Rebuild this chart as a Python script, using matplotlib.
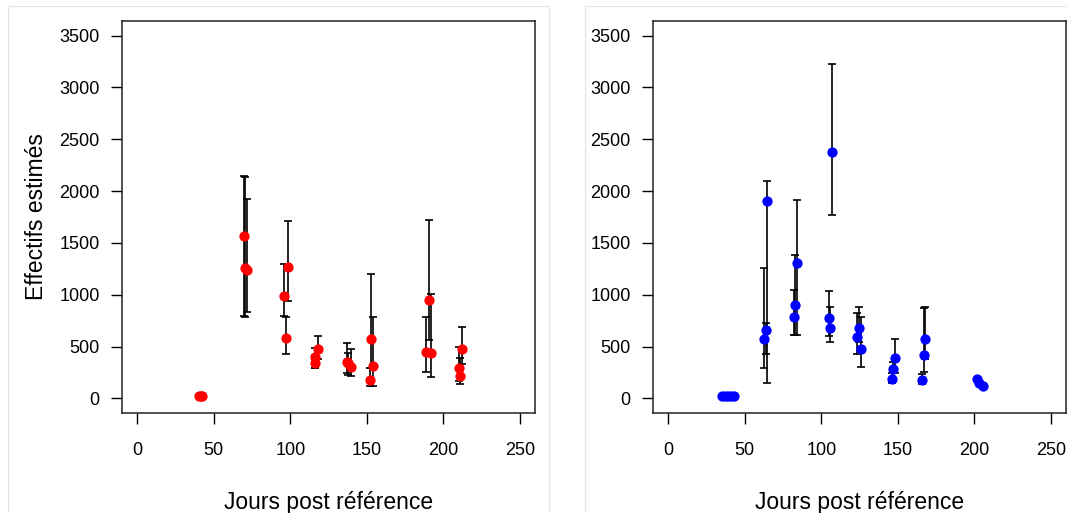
import numpy as np
import matplotlib
matplotlib.use("Agg")
import matplotlib.pyplot as plt
from matplotlib.patches import Rectangle

plt.rcParams['font.family'] = ['Liberation Sans', 'DejaVu Sans']

# ---------------- data ----------------
nan = np.nan
x_left = [40.5, 41.5, 42.5, 70, 70.5, 72, 96, 97, 98.5, 116, 116.5, 118,
          137, 138, 139.5, 152, 153, 154, 188.5, 190.5, 192, 210, 211, 212.5]
y_left = [25, 25, 25, 1567, 1260, 1240, 990, 585, 1265, 400, 345, 480,
          350, 340, 308, 183, 577, 317, 450, 952, 442, 298, 221, 481]
lo_left = [nan, nan, nan, 800, 790, 830, 800, 430, 940, 290, 290, 380,
           250, 230, 220, 120, 290, 125, 260, 560, 210, 170, 144, 330]
hi_left = [nan, nan, nan, 2150, 2140, 1925, 1300, 790, 1710, 490, 420, 600,
           538, 440, 480, 290, 1200, 790, 790, 1720, 1010, 500, 390, 690]

x_right = [35, 37, 39, 41, 43, 62.7, 64, 64.6, 82.2, 83, 84, 105, 105.7, 107,
           123.4, 124.7, 126, 146, 147, 148, 166, 167, 168, 201.6, 203, 205.6]
y_right = [22, 22, 22, 22, 22, 577, 663, 1905, 790, 905, 1310, 780, 675, 2375,
           596, 683, 481, 192, 288, 394, 183, 423, 577, 192, 154, 125]
lo_right = [nan, nan, nan, nan, nan, 290, 430, 150, 610, 610, 610, 600, 540, 1770,
            433, 540, 300, 154, 200, 250, 135, 260, 385, nan, nan, nan]
hi_right = [nan, nan, nan, nan, nan, 1260, 730, 2100, 1050, 1385, 1910, 1040, 885, 3230,
            827, 885, 790, 250, 356, 577, 240, 870, 885, nan, nan, nan]

x_ticks = [0, 50, 100, 150, 200, 250]
y_ticks = [0, 500, 1000, 1500, 2000, 2500, 3000, 3500]
x_label = "Jours post référence"
y_label = "Effectifs estimés"

# ---------------- figure ----------------
W, H = 1067, 513
fig = plt.figure(figsize=(W / 100, H / 100), dpi=100)

# faint panel boxes
for (x0, x1) in [(8, 549), (585, 1075)]:
    fig.patches.append(Rectangle((x0 / W, -0.05), (x1 - x0) / W, 1.05 - 6 / H,
                                 transform=fig.transFigure, fill=False,
                                 edgecolor='#e4e4e4', linewidth=0.8, zorder=0))

ax_w = 413 / W
ax_b = 1 - 413 / H
ax_h = 392 / H
axes = [fig.add_axes([122 / W, ax_b, ax_w, ax_h]),
        fig.add_axes([653 / W, ax_b, ax_w, ax_h])]

panels = [(x_left, y_left, lo_left, hi_left, '#ff0000', True),
          (x_right, y_right, lo_right, hi_right, '#0000ff', False)]

for ax, (xs, ys, lo, hi, col, show_ylab) in zip(axes, panels):
    xs = np.array(xs, float); ys = np.array(ys, float)
    lo = np.array(lo, float); hi = np.array(hi, float)
    m = ~np.isnan(lo)
    ax.errorbar(xs[m], ys[m], yerr=[ys[m] - lo[m], hi[m] - ys[m]], fmt='none',
                ecolor='black', elinewidth=1.2, capsize=3.2, capthick=1.2, zorder=2)
    ax.plot(xs, ys, 'o', color=col, markersize=7.4, markeredgewidth=0, zorder=3)
    ax.set_xlim(-10, 260)
    ax.set_ylim(-140, 3640)
    ax.set_xticks(x_ticks)
    ax.set_yticks(y_ticks)
    ax.tick_params(axis='both', direction='out', length=8, width=1.0,
                   labelsize=13, color='black')
    ax.tick_params(axis='y', pad=8)
    ax.tick_params(axis='x', pad=13)
    for sp in ax.spines.values():
        sp.set_linewidth(1.1)
        sp.set_color('#222222')
    ax.set_xlabel(x_label, fontsize=16.5, labelpad=23)
    if show_ylab:
        ax.set_ylabel(y_label, fontsize=16.5, labelpad=8)

fig.savefig('out.png', dpi=100)
